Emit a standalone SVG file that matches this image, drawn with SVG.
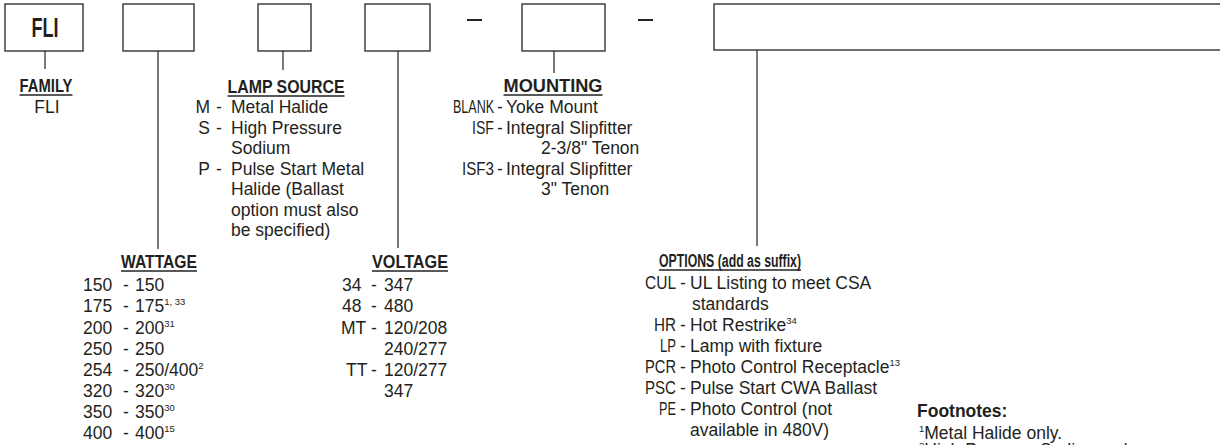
<svg xmlns="http://www.w3.org/2000/svg" width="1220" height="445" viewBox="0 0 1220 445">
<style>
.box{fill:#fff;stroke:#333;stroke-width:1.4}
.con{stroke:#333;stroke-width:1.3;fill:none}
.dash{stroke:#222;stroke-width:2}
.ul{stroke:#222;stroke-width:1.4}
text{font-family:"Liberation Sans",Arial,sans-serif;fill:#231f20;font-size:17.5px}
.h{font-weight:bold;text-anchor:middle}
.c{text-anchor:end}
.sup{font-size:9.5px}
.big{font-weight:bold;font-size:28px;text-anchor:middle}
</style>
<rect width="1220" height="445" fill="#fff"/>
<g id="connectors">
<line class="con" x1="45" y1="51" x2="45" y2="69"/>
<line class="con" x1="158" y1="51" x2="158" y2="249"/>
<line class="con" x1="283" y1="51" x2="283" y2="70"/>
<line class="con" x1="398" y1="51" x2="398" y2="248"/>
<line class="con" x1="554" y1="51" x2="554" y2="73"/>
<line class="con" x1="757" y1="50" x2="757" y2="246"/>
<line class="dash" x1="467" y1="20" x2="482" y2="20"/>
<line class="dash" x1="638" y1="20" x2="653" y2="20"/>
</g>
<g id="family">
<rect class="box" x="5" y="4" width="78" height="47"/>
<text class="big" x="45" y="36.5" textLength="27" lengthAdjust="spacingAndGlyphs">FLI</text>
<text class="h" x="46" y="92" textLength="53" lengthAdjust="spacingAndGlyphs">FAMILY</text>
<line class="ul" x1="19.5" y1="95" x2="72.5" y2="95"/>
<text x="47" y="113" text-anchor="middle">FLI</text>
</g>
<g id="wattage">
<rect class="box" x="123" y="4" width="71" height="47"/>
<text class="h" x="159" y="268" textLength="76" lengthAdjust="spacingAndGlyphs">WATTAGE</text>
<line class="ul" x1="121" y1="271" x2="197" y2="271"/>
<text x="83" y="291">150</text><text x="123" y="291">-</text><text x="135" y="291">150</text>
<text x="83" y="312">175</text><text x="123" y="312">-</text><text x="135" y="312">175<tspan class="sup" dy="-7">1, 33</tspan></text>
<text x="83" y="333.5">200</text><text x="123" y="333.5">-</text><text x="135" y="333.5">200<tspan class="sup" dy="-7">31</tspan></text>
<text x="83" y="354.5">250</text><text x="123" y="354.5">-</text><text x="135" y="354.5">250</text>
<text x="83" y="376">254</text><text x="123" y="376">-</text><text x="135" y="376">250/400<tspan class="sup" dy="-7">2</tspan></text>
<text x="83" y="397">320</text><text x="123" y="397">-</text><text x="135" y="397">320<tspan class="sup" dy="-7">30</tspan></text>
<text x="83" y="418">350</text><text x="123" y="418">-</text><text x="135" y="418">350<tspan class="sup" dy="-7">30</tspan></text>
<text x="83" y="439">400</text><text x="123" y="439">-</text><text x="135" y="439">400<tspan class="sup" dy="-7">15</tspan></text>
</g>
<g id="lamp-source">
<rect class="box" x="258" y="4" width="53" height="47"/>
<text class="h" x="286" y="93" textLength="117" lengthAdjust="spacingAndGlyphs">LAMP SOURCE</text>
<line class="ul" x1="227.5" y1="96" x2="344.5" y2="96"/>
<text class="c" x="210" y="113">M</text><text x="216" y="113">-</text><text x="231" y="113">Metal Halide</text>
<text class="c" x="210" y="133.5">S</text><text x="216" y="133.5">-</text><text x="231" y="133.5">High Pressure</text>
<text x="231" y="154">Sodium</text>
<text class="c" x="210" y="174.5">P</text><text x="216" y="174.5">-</text><text x="231" y="174.5">Pulse Start Metal</text>
<text x="231" y="195">Halide (Ballast</text>
<text x="231" y="215.5">option must also</text>
<text x="231" y="236">be specified)</text>
</g>
<g id="voltage">
<rect class="box" x="365" y="4" width="65" height="47"/>
<text class="h" x="410" y="268" textLength="76" lengthAdjust="spacingAndGlyphs">VOLTAGE</text>
<line class="ul" x1="372" y1="271" x2="448" y2="271"/>
<text x="342" y="291">34</text><text x="371" y="291">-</text><text x="384" y="291">347</text>
<text x="342" y="312">48</text><text x="371" y="312">-</text><text x="384" y="312">480</text>
<text x="341" y="333.5">MT</text><text x="371" y="333.5">-</text><text x="384" y="333.5">120/208</text>
<text x="384" y="354.5">240/277</text>
<text x="346" y="376">TT</text><text x="371" y="376">-</text><text x="384" y="376">120/277</text>
<text x="384" y="397">347</text>
</g>
<g id="mounting">
<rect class="box" x="522" y="4" width="83" height="47"/>
<text class="h" x="553" y="92" textLength="99" lengthAdjust="spacingAndGlyphs">MOUNTING</text>
<line class="ul" x1="503.5" y1="95" x2="602.5" y2="95"/>
<text class="c" x="494" y="113" textLength="41" lengthAdjust="spacingAndGlyphs">BLANK</text><text x="497" y="113">-</text><text x="506" y="113">Yoke Mount</text>
<text class="c" x="494" y="133.5" textLength="22" lengthAdjust="spacingAndGlyphs">ISF</text><text x="497" y="133.5">-</text><text x="506" y="133.5">Integral Slipfitter</text>
<text x="541" y="154">2-3/8" Tenon</text>
<text class="c" x="494" y="174.5" textLength="32" lengthAdjust="spacingAndGlyphs">ISF3</text><text x="497" y="174.5">-</text><text x="506" y="174.5">Integral Slipfitter</text>
<text x="541" y="195">3" Tenon</text>
</g>
<g id="options">
<rect class="box" x="714" y="4" width="520" height="46"/>
<text class="h" x="730" y="267" textLength="142" lengthAdjust="spacingAndGlyphs">OPTIONS (add as suffix)</text>
<line class="ul" x1="659" y1="270" x2="801" y2="270"/>
<text class="c" x="676" y="289" textLength="31" lengthAdjust="spacingAndGlyphs">CUL</text><text x="680" y="289">-</text><text x="690" y="289">UL Listing to meet CSA</text>
<text x="692" y="310">standards</text>
<text class="c" x="676" y="331" textLength="22" lengthAdjust="spacingAndGlyphs">HR</text><text x="680" y="331">-</text><text x="690" y="331">Hot Restrike<tspan class="sup" dy="-7">34</tspan></text>
<text class="c" x="676" y="352" textLength="16" lengthAdjust="spacingAndGlyphs">LP</text><text x="680" y="352">-</text><text x="690" y="352">Lamp with fixture</text>
<text class="c" x="676" y="373" textLength="31" lengthAdjust="spacingAndGlyphs">PCR</text><text x="680" y="373">-</text><text x="690" y="373">Photo Control Receptacle<tspan class="sup" dy="-7">13</tspan></text>
<text class="c" x="676" y="394" textLength="31" lengthAdjust="spacingAndGlyphs">PSC</text><text x="680" y="394">-</text><text x="690" y="394">Pulse Start CWA Ballast</text>
<text class="c" x="676" y="415" textLength="17" lengthAdjust="spacingAndGlyphs">PE</text><text x="680" y="415">-</text><text x="690" y="415">Photo Control (not</text>
<text x="690" y="436">available in 480V)</text>
</g>
<g id="footnotes">
<text x="917" y="417" font-weight="bold" font-size="15">Footnotes:</text>
<text x="919" y="439" font-size="15.5"><tspan class="sup" dy="-7">1</tspan><tspan dy="7">Metal Halide only.</tspan></text>
<text x="919" y="456" font-size="15.5"><tspan class="sup" dy="-7">2</tspan><tspan dy="7">High Pressure Sodium only.</tspan></text>
</g>
</svg>
